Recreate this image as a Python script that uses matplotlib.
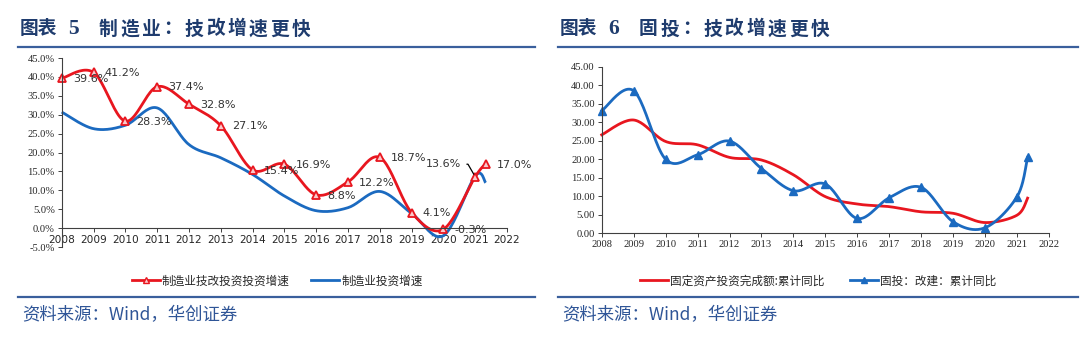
import matplotlib
matplotlib.use("Agg")
import matplotlib.pyplot as plt
from matplotlib.lines import Line2D
from matplotlib.ticker import FuncFormatter, MultipleLocator
import numpy as np

# ---- data ----
years = [2008, 2009, 2010, 2011, 2012, 2013, 2014, 2015, 2016, 2017, 2018, 2019, 2020, 2021, 2021.33]

mfg_tech = [39.6, 41.2, 28.3, 37.4, 32.8, 27.1, 15.4, 16.9, 8.8, 12.2, 18.7, 4.1, -0.3, 13.6, 17.0]
mfg_inv = [30.7, 26.3, 27.2, 31.8, 22.1, 18.6, 14.2, 8.5, 4.6, 5.4, 9.7, 3.9, -2.0, 13.8, 12.0]

fai_total = [26.6, 30.6, 24.8, 23.9, 20.5, 19.8, 15.8, 9.9, 7.9, 7.2, 5.8, 5.4, 2.9, 4.9, 9.5]
fai_tech = [33.1, 38.5, 20.0, 21.2, 24.9, 17.5, 11.5, 13.3, 4.0, 9.6, 12.4, 3.1, 1.5, 9.9, 20.5]

year_ticks = list(range(2008, 2023))

left_title = ("图表", "5", "制造业：技改增速更快")
right_title = ("图表", "6", "固投：技改增速更快")
left_names = ["制造业技改投资投资增速", "制造业投资增速"]
right_names = ["固定资产投资完成额:累计同比", "固投：改建：累计同比"]
source = "资料来源：Wind，华创证券"

RED = "#e8161f"
BLUE = "#1b6ac0"
NAVY = "#1f3c6e"
RULE = "#3a5f9c"
W, H = 1080, 359
CJK = ["Noto Sans CJK SC", "DejaVu Sans"]


def smooth(x, y, n=24):
    # excel-like smoothed line (bezier through the points)
    p = np.column_stack([x, y]).astype(float)
    p = np.vstack([p[0], p, p[-1]])
    t = np.linspace(0, 1, n)[:, None]
    out = []
    for i in range(1, len(p) - 2):
        p0, p1, p2, p3 = p[i - 1], p[i], p[i + 1], p[i + 2]
        c1 = p1 + (p2 - p0) / 6
        c2 = p2 - (p3 - p1) / 6
        seg = (1 - t) ** 3 * p1 + 3 * (1 - t) ** 2 * t * c1 + 3 * (1 - t) * t ** 2 * c2 + t ** 3 * p2
        out.append(seg if i == 1 else seg[1:])
    s = np.vstack(out)
    return s[:, 0], s[:, 1]


def rect(x0, x1, ytop, ybot):
    return [x0 / W, 1 - ybot / H, (x1 - x0) / W, (ybot - ytop) / H]


def style_axes(ax, fmt):
    for s in ["top", "right"]:
        ax.spines[s].set_visible(False)
    for s in ["left", "bottom"]:
        ax.spines[s].set_color("#404040")
        ax.spines[s].set_linewidth(0.8)
    ax.set_xlim(2008, 2022)
    ax.set_xticks(year_ticks)
    ax.set_xticklabels([str(y) for y in year_ticks])
    ax.yaxis.set_major_locator(MultipleLocator(5))
    ax.yaxis.set_major_formatter(FuncFormatter(fmt))
    ax.tick_params(direction="out", length=3, width=0.7, color="#404040",
                   labelsize=7.6, labelcolor="#262626", pad=2)
    for lab in ax.get_xticklabels() + ax.get_yticklabels():
        lab.set_family("Liberation Serif")


def title(x0, parts):
    y = 1 - 29 / H
    fig.text(x0 / W, y, parts[0], family=CJK, fontsize=13.5, weight="bold",
             color=NAVY, va="center", ha="left")
    fig.text((x0 + 48) / W, y, parts[1], family="Liberation Serif", fontsize=15.5,
             weight="bold", color=NAVY, va="center", ha="left")
    for i, ch in enumerate(parts[2]):
        fig.text((x0 + 79 + 21.4 * i) / W, y, ch, family=CJK, fontsize=13.5,
                 weight="bold", color=NAVY, va="center", ha="left")


def frame(x0, x1):
    fig.add_artist(Line2D([x0 / W, x1 / W], [1 - 47 / H] * 2, color=RULE, lw=1.6))
    fig.add_artist(Line2D([x0 / W, x1 / W], [1 - 297 / H] * 2, color=RULE, lw=1.6))
    fig.text((x0 + 4) / W, 1 - 315 / H, source, family=CJK, fontsize=12.5,
             color="#2f5597", style="italic", va="center", ha="left")


fig = plt.figure(figsize=(W / 100, H / 100), dpi=100)

# ---- left panel ----
ax1 = fig.add_axes(rect(61.7, 507, 58, 247))
style_axes(ax1, lambda v, p: f"{v:.1f}%")
ax1.set_ylim(-5, 45)
ax1.spines["bottom"].set_position(("data", 0))

sx, sy = smooth(years, mfg_inv)
ax1.plot(sx, sy, color=BLUE, lw=2, clip_on=False, solid_capstyle="butt")
sx, sy = smooth(years, mfg_tech)
ax1.plot(sx, sy, color=RED, lw=2, clip_on=False, solid_capstyle="butt")
ax1.plot(years, mfg_tech, ls="none", marker="^", ms=6, mec=RED, mfc="#f9c9cb",
         mew=1.3, clip_on=False)

for i, (x, v) in enumerate(zip(years, mfg_tech)):
    if i == len(years) - 2:
        ax1.annotate(f"{v:.1f}%", (x, v), xytext=(-10.5, 9), textcoords="offset points",
                     ha="right", va="center", fontsize=8, color="#333333",
                     family="Liberation Sans Narrow",
                     arrowprops=dict(arrowstyle="-", color="black", lw=0.9,
                                     relpos=(1, 0.5), shrinkA=2.5, shrinkB=2,
                                     connectionstyle="angle,angleA=0,angleB=120,rad=0"))
    else:
        ax1.annotate(f"{v:.1f}%", (x, v), xytext=(8, -0.5), textcoords="offset points",
                     ha="left", va="center", fontsize=8, color="#333333",
                     family="Liberation Sans Narrow")

fig.legend(handles=[Line2D([], [], color=RED, lw=2, marker="^", ms=5, mec=RED, mfc="#f9c9cb"),
                    Line2D([], [], color=BLUE, lw=2)],
           labels=left_names, loc="center", bbox_to_anchor=(277 / W, 1 - 281 / H),
           ncol=2, frameon=False, prop={"family": CJK, "size": 8.4},
           handlelength=2.4, handletextpad=0.2, columnspacing=1.8, labelcolor="#262626")

# ---- right panel ----
ax2 = fig.add_axes(rect(601.7, 1049, 66.7, 233.3))
style_axes(ax2, lambda v, p: f"{v:.2f}")
ax2.set_ylim(0, 45)

sx, sy = smooth(years, fai_total)
ax2.plot(sx, sy, color=RED, lw=2, clip_on=False)
sx, sy = smooth(years, fai_tech)
ax2.plot(sx, sy, color=BLUE, lw=2, clip_on=False)
ax2.plot(years, fai_tech, ls="none", marker="^", ms=5.5, color=BLUE, clip_on=False)

fig.legend(handles=[Line2D([], [], color=RED, lw=2),
                    Line2D([], [], color=BLUE, lw=2, marker="^", ms=5)],
           labels=right_names, loc="center", bbox_to_anchor=(818 / W, 1 - 281 / H),
           ncol=2, frameon=False, prop={"family": CJK, "size": 8.4},
           handlelength=2.4, handletextpad=0.2, columnspacing=2.2, labelcolor="#262626")

title(20, left_title)
title(560, right_title)
frame(18, 535)
frame(558, 1078)

fig.savefig("out.png", dpi=100)
